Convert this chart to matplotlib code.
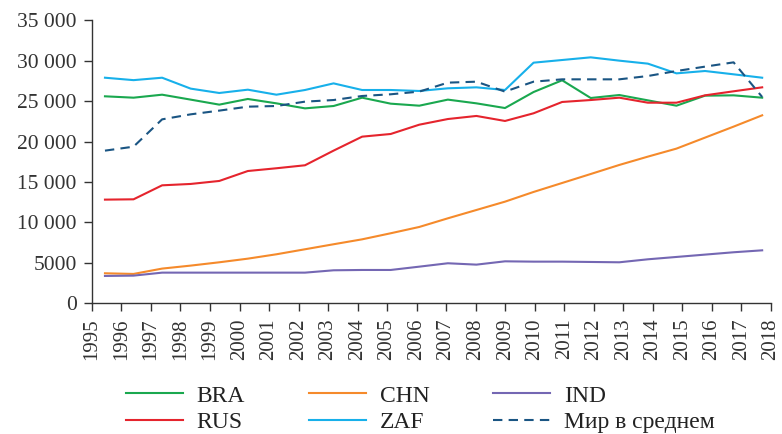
import numpy as np
import matplotlib
matplotlib.use("Agg")
import matplotlib.pyplot as plt
from matplotlib.ticker import FuncFormatter

matplotlib.rcParams.update({'font.family': ['Liberation Serif', 'DejaVu Serif'],
                            'axes.linewidth': 1.0,
                            'axes.edgecolor': '#333333',
                            'xtick.color': '#333333', 'ytick.color': '#333333',
                            'text.color': '#222222'})

years = list(range(1995, 2019))

bra = [25600, 25430, 25800, 25190, 24570, 25270, 24730, 24110, 24400, 25430,
       24690, 24440, 25190, 24730, 24150, 26130, 27580, 25390, 25760, 25100,
       24440, 25680, 25720, 25430]
rus = [12820, 12860, 14590, 14760, 15130, 16360, 16700, 17070, 18880, 20610,
       20940, 22090, 22790, 23170, 22550, 23500, 24900, 25140, 25430, 24810,
       24810, 25720, 26220, 26710]
chn = [3710, 3630, 4290, 4660, 5070, 5520, 6060, 6680, 7300, 7910,
       8660, 9440, 10510, 11540, 12570, 13770, 14880, 15990, 17110, 18140,
       19130, 20490, 21850, 23250]
zaf = [27900, 27600, 27900, 26550, 26010, 26420, 25800, 26380, 27200, 26380,
       26380, 26260, 26590, 26710, 26380, 29760, 30090, 30420, 30010, 29640,
       28440, 28730, 28320, 27900]
ind = [3380, 3420, 3790, 3790, 3790, 3790, 3790, 3790, 4080, 4120,
       4120, 4530, 4950, 4780, 5190, 5150, 5150, 5110, 5070, 5440,
       5730, 6020, 6310, 6550]
world = [18880, 19370, 22750, 23370, 23830, 24320, 24400, 24940, 25140, 25640,
         25850, 26180, 27290, 27410, 26180, 27410, 27700, 27700, 27700, 28110,
         28730, 29270, 29800, 25520]

fig = plt.figure(figsize=(7.82, 4.34), dpi=100)
ax = fig.add_axes([0.1176, 0.3012, 0.868, 0.652])

lw = 1.5
l_bra, = ax.plot(years, bra, color='#1aa84f', lw=lw, label='BRA')
l_rus, = ax.plot(years, rus, color='#e5242d', lw=lw, label='RUS')
l_chn, = ax.plot(years, chn, color='#f58a2b', lw=lw, label='CHN')
l_zaf, = ax.plot(years, zaf, color='#17b0ea', lw=lw, label='ZAF')
l_ind, = ax.plot(years, ind, color='#7467b3', lw=lw, label='IND')
l_wld, = ax.plot(years, world, color='#1a5583', lw=lw, dashes=(4.5, 3),
                 label='Мир в среднем')

# axes
ax.set_ylim(0, 35000)
ax.set_yticks(range(0, 35001, 5000))
ax.yaxis.set_major_formatter(FuncFormatter(
    lambda v, p: f"{int(v):,}".replace(',', ' ') if v >= 10000 else f"{int(v)}"))
x0, x1 = years[0] - 0.455, years[-1] + 0.3
ax.set_xlim(x0, x1)
ax.set_xticks(np.linspace(x0, x1, len(years)))
ax.set_xticklabels([str(y) for y in years], rotation=90)
ax.tick_params(axis='both', direction='out', length=6, width=1.0, pad=5,
               labelsize=15)
ax.tick_params(axis='y', labelsize=15.5)
ax.spines['top'].set_visible(False)
ax.spines['right'].set_visible(False)

# legend
fig.legend([l_bra, l_rus, l_chn, l_zaf, l_ind, l_wld],
           ['BRA', 'RUS', 'CHN', 'ZAF', 'IND', 'Мир в среднем'],
           ncol=3, loc='upper left', bbox_to_anchor=(126 / 782, 1 - 385 / 434),
           frameon=False, fontsize=17, borderpad=0, handlelength=2.4,
           handletextpad=0.6, columnspacing=2.7, labelspacing=0.22,
           borderaxespad=0)

fig.savefig('out.png', dpi=100)
